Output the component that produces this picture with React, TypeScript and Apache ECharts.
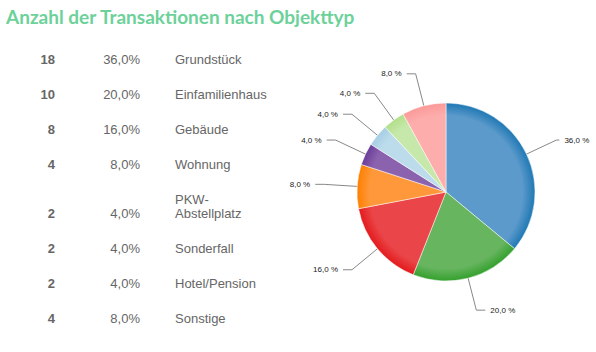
import React, { useEffect, useRef } from "react";
import * as echarts from "echarts";

const categories = [
  "Grundstück",
  "Einfamilienhaus",
  "Gebäude",
  "Wohnung",
  "PKW-Abstellplatz",
  "Sonderfall",
  "Hotel/Pension",
  "Sonstige",
];
const counts = [18, 10, 8, 4, 2, 2, 2, 4];
const colors = ["#1f78b4", "#33a02c", "#e31a1c", "#ff7f00", "#6a3d9a", "#a6cee3", "#b2df8a", "#fb9a99"];
const lightColors = ["#5c9acb", "#68b560", "#ea4548", "#ff983a", "#8b62ad", "#bcdcec", "#c6e8aa", "#fdadac"];

const fmt = (v: number) => v.toFixed(1).replace(".", ",");
const FONT = "Arial";

export default function App() {
  const ref = useRef<HTMLDivElement>(null);
  useEffect(() => {
    const chart = echarts.init(ref.current!, null, { renderer: "svg" });
    const total = counts.reduce((a, b) => a + b, 0);
    const graphics: any[] = [];
    let y = 59.5;
    categories.forEach((c, i) => {
      const name = c.replace("-", "-\n");
      const lines = name.split("\n").length;
      if (i > 0) y += 35 + 14 * (lines - 1);
      const pct = (counts[i] / total) * 100;
      graphics.push({
        type: "text",
        x: 55,
        y,
        style: {
          text: String(counts[i]),
          align: "right",
          verticalAlign: "middle",
          fontFamily: FONT,
          fontWeight: "bold",
          fontSize: 13,
          fill: "#666",
        },
      });
      graphics.push({
        type: "text",
        x: 140,
        y,
        style: {
          text: fmt(pct) + "%",
          align: "right",
          verticalAlign: "middle",
          fontFamily: FONT,
          fontSize: 13,
          fill: "#666",
        },
      });
      graphics.push({
        type: "text",
        x: 175,
        y: y - 7 - 14 * (lines - 1),
        style: {
          text: name,
          align: "left",
          verticalAlign: "top",
          lineHeight: 14,
          fontFamily: FONT,
          fontSize: 13,
          fill: "#666",
        },
      });
    });

    const cx = 446, cy = 192, r = 89;
    chart.setOption({
      animation: false,
      title: {
        text: "Anzahl der Transaktionen nach Objekttyp",
        left: 1,
        top: 2,
        textStyle: {
          fontFamily: "Lato",
          fontWeight: "bold",
          fontSize: 19,
          color: "#6dd19a",
        },
      },
      graphic: graphics,
      series: [
        {
          type: "pie",
          center: [cx, cy],
          radius: [0, r],
          startAngle: 90,
          clockwise: true,
          label: {
            formatter: (p: any) => fmt(p.percent) + " %",
            fontSize: 8,
            fontFamily: FONT,
            color: "#222",
            overflow: "none",
          },
          labelLine: {
            length: 33,
            length2: 9,
            lineStyle: { color: "#888", width: 1 },
          },
          itemStyle: { borderColor: "#fff", borderWidth: 0.5 },
          emphasis: { disabled: true },
          data: categories.map((c, i) => ({
            name: c,
            value: counts[i],
            labelLine: i === 0 ? { length2: 3 } : undefined,
            itemStyle: {
              color: new echarts.graphic.RadialGradient(
                cx,
                cy,
                r,
                [
                  { offset: 0, color: lightColors[i] },
                  { offset: 0.86, color: lightColors[i] },
                  { offset: 1, color: colors[i] },
                ],
                true
              ),
            },
          })),
        },
      ],
    });
    return () => chart.dispose();
  }, []);
  return (
    <div
      ref={ref}
      style={{ position: "absolute", left: 0, top: 0, width: 596, height: 352 }}
    />
  );
}
